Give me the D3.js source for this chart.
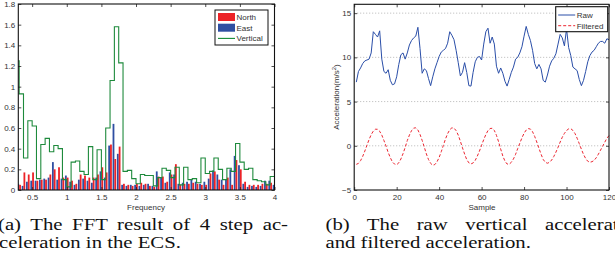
<!DOCTYPE html>
<html>
<head>
<meta charset="utf-8">
<script src="https://cdn.jsdelivr.net/npm/d3@7.9.0/dist/d3.min.js"></script>
<style>
  html, body { margin: 0; padding: 0; background: #fff; }
  svg { display: block; }
</style>
</head>
<body>
<svg id="chart" width="615" height="278"></svg>
<script>
// ---- data: (a) FFT of 4 step acceleration ----
const freqBins = [0.25, 0.3125, 0.375, 0.4375, 0.5, 0.5625, 0.625, 0.6875, 0.75, 0.8125, 0.875,
  0.9375, 1.0, 1.0625, 1.125, 1.1875, 1.25, 1.3125, 1.375, 1.4375, 1.5,
  1.5625, 1.625, 1.6875, 1.75, 1.8125, 1.875, 1.9375, 2.0, 2.0625, 2.125,
  2.1875, 2.25, 2.3125, 2.375, 2.4375, 2.5, 2.5625, 2.625, 2.6875, 2.75,
  2.8125, 2.875, 2.9375, 3.0, 3.0625, 3.125, 3.1875, 3.25, 3.3125, 3.375,
  3.4375, 3.5, 3.5625, 3.625, 3.6875, 3.75, 3.8125, 3.875, 3.9375, 4.0];
const northAmp = [0, 0.05, 0.17, 0.15, 0.17, 0.09, 0.10, 0.10, 0.15, 0.20, 0.22,
  0.12, 0.12, 0.09, 0.06, 0.15, 0.14, 0.12, 0.12, 0.15, 0.22,
  0.17, 0.44, 0.30, 0.42, 0.06, 0.05, 0.04, 0.06, 0.07, 0.06,
  0.04, 0.03, 0.13, 0.13, 0.08, 0.15, 0.25, 0.05, 0.06, 0.06,
  0.07, 0.06, 0.05, 0.05, 0.16, 0.18, 0.10, 0.05, 0.12, 0.05,
  0.29, 0.20, 0.08, 0.05, 0.05, 0.05, 0.06, 0.06, 0.07, 0.05];
const eastAmp = [0, 0.06, 0.04, 0.08, 0.09, 0.09, 0.10, 0.11, 0.12, 0.27, 0.10,
  0.11, 0.14, 0.08, 0.05, 0.10, 0.11, 0.09, 0.07, 0.12, 0.18,
  0.12, 0.43, 0.64, 0.35, 0.05, 0.04, 0.05, 0.05, 0.04, 0.05,
  0.06, 0.04, 0.18, 0.12, 0.07, 0.17, 0.15, 0.06, 0.07, 0.08,
  0.10, 0.08, 0.06, 0.08, 0.11, 0.19, 0.15, 0.10, 0.10, 0.20,
  0.33, 0.24, 0.06, 0.03, 0.04, 0.03, 0.04, 0.09, 0.09, 0.05];
const verticalAmp = [1.25, 0.93, 0.31, 0.67, 0.62, 0.11, 0.44, 0.50, 0.37, 0.43, 0.40,
  0.10, 0.03, 0.27, 0.28, 0.18, 0.15, 0.42, 0.10, 0.39, 0.10,
  0.60, 1.06, 1.58, 1.23, 0.18, 0.19, 0.11, 0.06, 0.15, 0.14,
  0.14, 0.04, 0.12, 0.21, 0.19, 0.12, 0.22, 0.05, 0.22, 0.10,
  0.11, 0.07, 0.31, 0.16, 0.18, 0.31, 0.20, 0.10, 0.21, 0.18,
  0.45, 0.27, 0.20, 0.21, 0.10, 0.09, 0.08, 0.05, 0.13, 0.18];
const fftYTicks = [0, 0.2, 0.4, 0.6, 0.8, 1, 1.2, 1.4, 1.6, 1.8];
const fftXTicks = [0.5, 1, 1.5, 2, 2.5, 3, 3.5, 4];

// ---- data: (b) raw and filtered vertical acceleration ----
const rawAcc = [7.2, 8.4, 8.8, 9.3, 9.6, 9.7, 9.8, 10.5, 12.9, 12.6,
  12.3, 13.0, 9.8, 8.4, 8.2, 8.6, 7.4, 6.9, 7.0, 7.8,
  9.2, 10.3, 10.5, 9.8, 10.5, 11.4, 11.9, 12.2, 12.4, 13.4,
  11.0, 8.2, 8.7, 8.5, 7.6, 6.8, 7.8, 8.7, 9.4, 10.1,
  10.6, 10.8, 11.0, 11.6, 12.9, 12.5, 12.0, 10.8, 9.4, 7.9,
  8.3, 9.4, 8.3, 6.8, 6.75, 8.3, 9.5, 10.0, 10.1, 9.7,
  11.5, 12.9, 13.3, 11.6, 12.3, 11.5, 9.0, 8.2, 8.8, 8.2,
  7.3, 6.75, 7.5, 8.3, 8.9, 9.8, 10.0, 10.5, 11.2, 12.4,
  13.5, 12.6, 11.9, 10.8, 9.3, 8.7, 9.2, 8.7, 7.4, 7.2,
  8.0, 9.0, 9.6, 9.9, 10.4, 11.5, 12.6, 12.2, 11.3, 13.2,
  11.1, 10.2, 8.9, 8.7, 8.5, 7.5, 6.8, 7.4, 8.4, 9.5,
  10.2, 10.6, 10.8, 11.2, 11.6, 11.8, 11.8, 11.6, 12.1, 12.0];
const filteredAcc = [-2.1, -1.99, -1.68, -1.2, -0.6, 0.06, 0.7, 1.26, 1.66, 1.87,
  1.87, 1.64, 1.21, 0.6, -0.04, -0.75, -1.34, -1.83, -2.07, -2.14,
  -1.93, -1.49, -0.89, -0.18, 0.59, 1.21, 1.71, 2.0, 2.03, 1.79,
  1.28, 0.61, -0.14, -0.93, -1.56, -1.99, -2.2, -2.12, -1.81, -1.32,
  -0.67, 0.05, 0.78, 1.37, 1.82, 2.03, 2.0, 1.71, 1.21, 0.51,
  -0.23, -0.94, -1.56, -1.93, -2.05, -1.94, -1.65, -1.16, -0.59, 0.06,
  0.7, 1.27, 1.72, 1.95, 1.98, 1.73, 1.18, 0.46, -0.38, -1.16,
  -1.73, -2.06, -2.08, -1.87, -1.49, -0.97, -0.32, 0.29, 0.9, 1.42,
  1.78, 1.94, 1.89, 1.59, 1.06, 0.42, -0.28, -0.95, -1.54, -1.87,
  -1.97, -1.87, -1.61, -1.21, -0.72, -0.17, 0.42, 0.97, 1.4, 1.73,
  1.91, 1.93, 1.74, 1.38, 0.85, 0.24, -0.39, -0.98, -1.44, -1.75,
  -1.86, -1.8, -1.65, -1.35, -0.95, -0.5, -0.05, 0.4, 0.85, 1.15];
const accYTicks = [-5, 0, 5, 10, 15];
const accXTicks = [0, 20, 40, 60, 80, 100, 120];

const fontSans = "Liberation Sans, Arial, sans-serif";
const fontSerif = "Liberation Serif, Times New Roman, serif";
const tickColor = "#333";

const svg = d3.select("#chart");

function fmt(d) {
  return String(+d.toFixed(1)).replace("-", "\u2212");
}

// boxed axes, inward ticks on all four sides
function drawFrame(g, xScale, yScale, xTicks, yTicks) {
  const [x0, x1] = xScale.range();
  const [y0, y1] = yScale.range();

  g.append("g")
    .attr("transform", `translate(0,${y0})`)
    .call(d3.axisBottom(xScale).tickValues(xTicks).tickSizeInner(-3).tickSizeOuter(0).tickPadding(4).tickFormat(fmt))
    .call(a => a.select(".domain").remove());
  g.append("g")
    .attr("transform", `translate(0,${y1})`)
    .call(d3.axisTop(xScale).tickValues(xTicks).tickSizeInner(-3).tickSizeOuter(0).tickFormat(""))
    .call(a => a.select(".domain").remove());
  g.append("g")
    .attr("transform", `translate(${x0},0)`)
    .call(d3.axisLeft(yScale).tickValues(yTicks).tickSizeInner(-3).tickSizeOuter(0).tickPadding(3).tickFormat(fmt))
    .call(a => a.select(".domain").remove());
  g.append("g")
    .attr("transform", `translate(${x1},0)`)
    .call(d3.axisRight(yScale).tickValues(yTicks).tickSizeInner(-3).tickSizeOuter(0).tickFormat(""))
    .call(a => a.select(".domain").remove());

  g.selectAll(".tick line").attr("stroke", "#222").attr("stroke-width", 0.8);
  g.selectAll(".tick text")
    .attr("fill", tickColor)
    .style("font-family", fontSans)
    .style("font-size", "8px");

  g.append("rect")
    .attr("x", x0).attr("y", y1)
    .attr("width", x1 - x0).attr("height", y0 - y1)
    .attr("fill", "none")
    .attr("stroke", "#111")
    .attr("stroke-width", 1.1);
}

// ---------------- (a) FFT ----------------
const xF = d3.scaleLinear().domain([0.3, 4]).range([18.3, 274.5]);
const yF = d3.scaleLinear().domain([0, 1.8]).range([190, 4]);

const defs = svg.append("defs");
defs.append("clipPath").attr("id", "clipA")
  .append("rect").attr("x", 18.3).attr("y", 4).attr("width", 274.5 - 18.3).attr("height", 186);

const gA = svg.append("g");
const plotA = gA.append("g").attr("clip-path", "url(#clipA)");

const fftRows = freqBins.map((f, i) => ({ f, n: northAmp[i], e: eastAmp[i], v: verticalAmp[i] }));
const barW = 0.026;

plotA.selectAll("rect.east")
  .data(fftRows)
  .enter()
  .append("rect")
  .attr("class", "east")
  .attr("x", d => xF(d.f - barW))
  .attr("y", d => yF(d.e))
  .attr("width", xF(barW) - xF(0))
  .attr("height", d => yF(0) - yF(d.e))
  .attr("fill", "#2f4fa2");

plotA.selectAll("rect.north")
  .data(fftRows)
  .enter()
  .append("rect")
  .attr("class", "north")
  .attr("x", d => xF(d.f))
  .attr("y", d => yF(d.n))
  .attr("width", xF(barW) - xF(0))
  .attr("height", d => yF(0) - yF(d.n))
  .attr("fill", "#ec2227");

const stairs = d3.line()
  .curve(d3.curveStepAfter)
  .x(d => xF(d.f))
  .y(d => yF(d.v));

plotA.append("path")
  .datum(fftRows)
  .attr("d", stairs)
  .attr("fill", "none")
  .attr("stroke", "#1e8a3c")
  .attr("stroke-width", 1.1);

drawFrame(gA, xF, yF, fftXTicks, fftYTicks);

gA.append("text")
  .attr("x", 146)
  .attr("y", 210)
  .attr("text-anchor", "middle")
  .attr("fill", tickColor)
  .style("font-family", fontSans)
  .style("font-size", "8px")
  .text("Frequency");

// legend (a)
const legA = gA.append("g").attr("transform", "translate(215,10)");
legA.append("rect")
  .attr("width", 53).attr("height", 35)
  .attr("fill", "#fff").attr("stroke", "#111").attr("stroke-width", 1);
const legAItems = [
  { label: "North", color: "#ec2227", kind: "box" },
  { label: "East", color: "#2f4fa2", kind: "box" },
  { label: "Vertical", color: "#118a33", kind: "line" }
];
legAItems.forEach((it, i) => {
  const cy = 7 + i * 10.7;
  if (it.kind === "box") {
    legA.append("rect")
      .attr("x", 3).attr("y", cy - 4)
      .attr("width", 17).attr("height", 8)
      .attr("fill", it.color);
  } else {
    legA.append("line")
      .attr("x1", 3).attr("x2", 20)
      .attr("y1", cy).attr("y2", cy)
      .attr("stroke", it.color).attr("stroke-width", 1.1);
  }
  legA.append("text")
    .attr("x", 21.5).attr("y", cy + 3)
    .attr("fill", tickColor)
    .style("font-family", fontSans)
    .style("font-size", "8px")
    .text(it.label);
});

// ---------------- (b) acceleration ----------------
const xS = d3.scaleLinear().domain([0, 120]).range([354.2, 609]);
const yS = d3.scaleLinear().domain([-5, 16]).range([190, 4.3]);
const samples = d3.range(1, rawAcc.length + 1);

const gB = svg.append("g");

gB.selectAll("line.grid")
  .data(accYTicks.filter(t => t > -5))
  .enter()
  .append("line")
  .attr("class", "grid")
  .attr("x1", xS(0)).attr("x2", xS(120))
  .attr("y1", d => yS(d)).attr("y2", d => yS(d))
  .attr("stroke", "#999")
  .attr("stroke-width", 0.7)
  .attr("stroke-dasharray", "1,2");

const accLine = d3.line()
  .x((d, i) => xS(samples[i]))
  .y(d => yS(d));

gB.append("path")
  .datum(rawAcc)
  .attr("d", accLine)
  .attr("fill", "none")
  .attr("stroke", "#2a4ea8")
  .attr("stroke-width", 1);

gB.append("path")
  .datum(filteredAcc)
  .attr("d", accLine)
  .attr("fill", "none")
  .attr("stroke", "#ec2530")
  .attr("stroke-width", 1)
  .attr("stroke-dasharray", "3,2");

drawFrame(gB, xS, yS, accXTicks, accYTicks);

gB.append("text")
  .attr("x", 482)
  .attr("y", 210)
  .attr("text-anchor", "middle")
  .attr("fill", tickColor)
  .style("font-family", fontSans)
  .style("font-size", "8px")
  .text("Sample");

const yLab = gB.append("text")
  .attr("transform", "translate(339,97) rotate(-90)")
  .attr("text-anchor", "middle")
  .attr("fill", tickColor)
  .style("font-family", fontSans)
  .style("font-size", "8px");
yLab.append("tspan").text("Acceleration(m/s");
yLab.append("tspan").attr("dy", -3).style("font-size", "6px").text("2");
yLab.append("tspan").attr("dy", 3).text(")");

// legend (b)
const legB = gB.append("g").attr("transform", "translate(555.7,6.7)");
legB.append("rect")
  .attr("width", 52).attr("height", 25)
  .attr("fill", "#fff").attr("stroke", "#111").attr("stroke-width", 1.1);
const legBItems = [
  { label: "Raw", color: "#2a4ea8", dash: null },
  { label: "Filtered", color: "#ec2530", dash: "3,2" }
];
legBItems.forEach((it, i) => {
  const cy = 8.3 + i * 10.7;
  legB.append("line")
    .attr("x1", 2.5).attr("x2", 19.5)
    .attr("y1", cy).attr("y2", cy)
    .attr("stroke", it.color)
    .attr("stroke-width", 1)
    .attr("stroke-dasharray", it.dash);
  legB.append("text")
    .attr("x", 21).attr("y", cy + 3)
    .attr("fill", tickColor)
    .style("font-family", fontSans)
    .style("font-size", "8px")
    .text(it.label);
});

// ---------------- captions ----------------
// the caption type is wider than plain Times, so it is stretched horizontally;
// justified lines get word spacing so that the last word starts where it does in the figure
const capScale = 1.25;
const captions = [
  { text: "(a) The FFT result of 4 step ac-", x: -2, y: 229.5, lastAt: 262.7 },
  { text: "celeration in the ECS.", x: -1, y: 248.3, lastAt: null },
  { text: "(b) The raw vertical acceleration", x: 325.5, y: 229.5, lastAt: 545 },
  { text: "and filtered acceleration.", x: 325.5, y: 248.3, lastAt: null }
];
captions.forEach(c => {
  const t = svg.append("text")
    .attr("transform", `translate(${c.x},${c.y}) scale(${capScale},1)`)
    .attr("fill", "#111")
    .style("font-family", fontSerif)
    .style("font-size", "16.6px")
    .text(c.text);
  if (c.lastAt) {
    const idx = c.text.lastIndexOf(" ") + 1;
    const gaps = c.text.slice(0, idx).split(" ").length - 1;
    const prefix = t.node().getSubStringLength(0, idx);
    t.attr("word-spacing", ((c.lastAt - c.x) / capScale - prefix) / gaps);
  }
});
</script>
</body>
</html>
